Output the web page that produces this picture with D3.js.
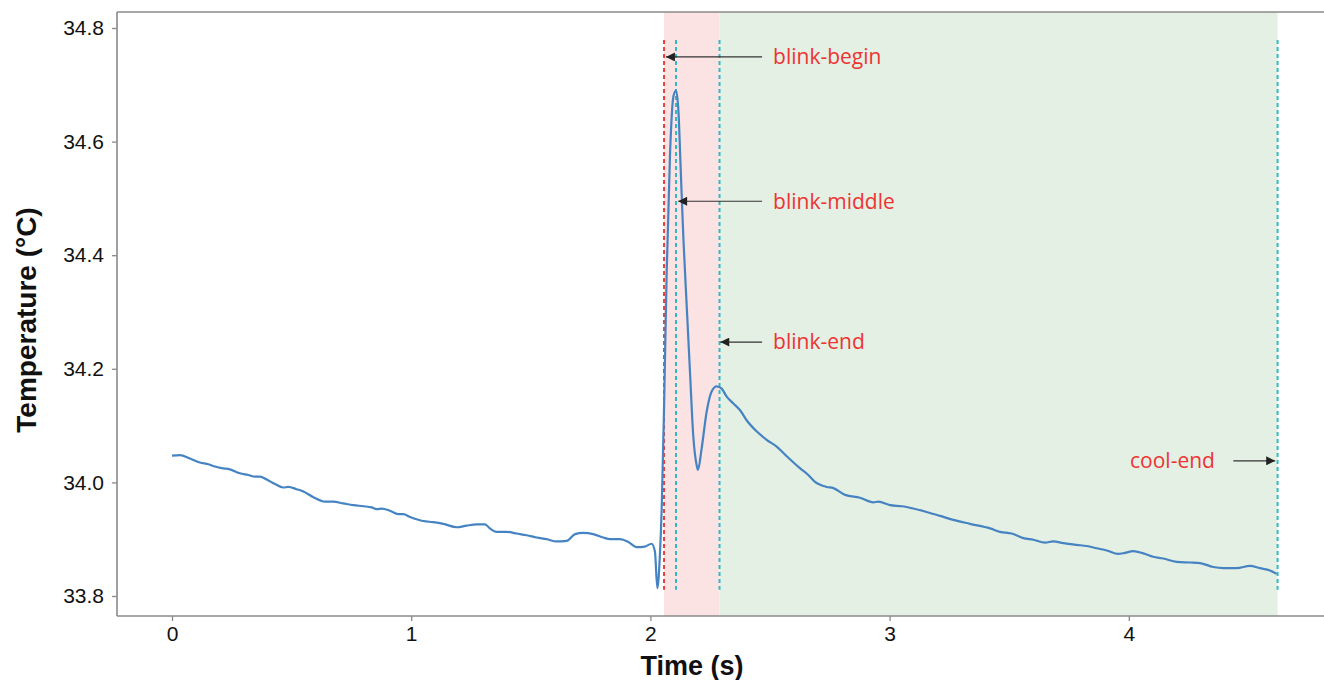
<!DOCTYPE html>
<html><head><meta charset="utf-8">
<script src="https://cdn.jsdelivr.net/npm/d3@7"></script>
<style>body{margin:0;background:#fff}svg{display:block}</style>
</head><body><svg id="c" width="1324" height="680"></svg>
<script>
// time (s)
const timeS = [0.000,0.033,0.075,0.117,0.152,0.180,0.208,0.242,0.284,0.319,0.347,0.368,0.396,0.431,0.465,0.486,0.521,0.549,0.591,0.640,0.674,0.716,0.758,0.800,0.835,0.856,0.877,0.911,0.946,0.967,0.995,
1.009,1.051,1.092,1.134,1.190,1.232,1.274,1.309,1.329,1.357,1.399,1.441,1.483,1.525,1.566,1.608,1.650,1.685,1.719,1.761,1.803,1.831,1.873,1.908,1.943,1.977,2.005,2.019,2.029,2.040,2.047,2.057,2.068,2.082,2.096,2.107,2.117,2.127,2.138,2.152,2.166,2.179,2.194,2.199,2.214,2.235,2.256,2.277,2.298,2.319,2.347,2.375,2.403,2.444,2.486,2.528,2.570,2.625,2.660,2.688,2.737,2.765,2.814,2.876,2.932,2.953,3.002,3.051,3.099,3.155,3.211,3.266,3.336,3.420,3.462,3.510,3.559,3.601,3.650,3.684,3.726,3.782,3.824,3.866,3.908,3.956,3.984,4.019,4.061,4.102,4.144,4.200,4.256,4.298,4.353,4.395,4.451,4.507,4.548,4.590,4.618];
// temperature (°C)
const tempC = [34.047,34.048,34.042,34.035,34.032,34.028,34.025,34.023,34.016,34.013,34.010,34.010,34.005,33.997,33.991,33.992,33.988,33.984,33.974,33.966,33.966,33.963,33.960,33.958,33.956,33.953,33.954,33.950,33.944,33.944,33.939,
33.937,33.932,33.930,33.927,33.921,33.924,33.926,33.926,33.919,33.913,33.913,33.910,33.907,33.903,33.900,33.896,33.897,33.909,33.911,33.909,33.903,33.900,33.900,33.895,33.886,33.887,33.892,33.878,33.814,33.875,33.951,34.131,34.369,34.578,34.679,34.690,34.655,34.548,34.429,34.309,34.190,34.083,34.029,34.022,34.059,34.124,34.160,34.169,34.165,34.151,34.139,34.127,34.109,34.090,34.075,34.063,34.046,34.025,34.013,34.001,33.992,33.990,33.978,33.973,33.965,33.966,33.960,33.958,33.954,33.948,33.941,33.934,33.927,33.919,33.913,33.910,33.902,33.899,33.894,33.896,33.893,33.890,33.888,33.884,33.880,33.874,33.876,33.879,33.875,33.869,33.866,33.860,33.859,33.858,33.851,33.849,33.849,33.853,33.849,33.845,33.839];

const xTicks = [0,1,2,3,4];
const yTicks = [33.8,34.0,34.2,34.4,34.6,34.8];

// phase boundaries (s)
const phaseNames = ["blink","cool"];
const phaseStart = [2.057, 2.289];
const phaseEnd   = [2.289, 4.622];

// marker lines
const markerNames = ["blink-begin","blink-middle","blink-end","cool-end"];
const markerTimes = [2.057, 2.107, 2.289, 4.622];
const markerKinds = ["red","cyan","cyan","cyan"];

// annotations
const noteLabels = ["blink-begin","blink-middle","blink-end","cool-end"];
const noteTemps  = [34.749, 34.495, 34.247, 34.038];
const noteTips   = [2.065, 2.116, 2.292, 4.612];
const noteTails  = [2.467, 2.467, 2.467, 4.437];
const noteTextX  = [2.513, 2.513, 2.513, 4.360];

const svg = d3.select("#c");
const L = 117, R = 1324, T = 12, B = 616;
const x = d3.scaleLinear().domain([0,4]).range([172, 1128.8]);
const y = d3.scaleLinear().domain([33.8,34.8]).range([596, 28]);

const phaseFill = {blink:"#fbe3e3", cool:"#e4f0e3"};
svg.selectAll("rect.phase").data(phaseNames).join("rect")
  .attr("x",(d,i)=>x(phaseStart[i])).attr("width",(d,i)=>x(phaseEnd[i])-x(phaseStart[i]))
  .attr("y",T).attr("height",B-T).attr("fill",d=>phaseFill[d]);

// markers
const markColor = {red:"#e8403f", cyan:"#33b9c6"};
svg.selectAll("line.mark").data(markerTimes).join("line")
  .attr("x1",d=>x(d)).attr("x2",d=>x(d))
  .attr("y1",y(34.779)).attr("y2",y(33.811))
  .attr("stroke",(d,i)=>markColor[markerKinds[i]]).attr("stroke-width",2)
  .attr("stroke-dasharray","4,3");

// line
const pts = timeS.map((t,i)=>[t,tempC[i]]);
svg.append("path").datum(pts)
  .attr("d", d3.line().x(d=>x(d[0])).y(d=>y(d[1])).curve(d3.curveMonotoneX))
  .attr("fill","none").attr("stroke","#4683c2").attr("stroke-width",2.2).attr("stroke-linejoin","round");

// frame
const fc = "#8a8a8a";
svg.append("line").attr("x1",L).attr("x2",R).attr("y1",T).attr("y2",T).attr("stroke",fc).attr("stroke-width",1.6);
svg.append("line").attr("x1",L).attr("x2",L).attr("y1",T).attr("y2",B).attr("stroke",fc).attr("stroke-width",1.6);
svg.append("line").attr("x1",L).attr("x2",R).attr("y1",B).attr("y2",B).attr("stroke",fc).attr("stroke-width",1.6);

// axes
const fontAx = "'Liberation Sans', Arial, sans-serif";
const gx = svg.append("g").attr("transform",`translate(0,${B})`)
  .call(d3.axisBottom(x).tickValues(xTicks).tickFormat(d3.format("d")).tickSize(5).tickPadding(5));
gx.select(".domain").remove();
gx.selectAll("line").attr("stroke",fc).attr("stroke-width",1.3);
gx.selectAll("text").attr("font-family",fontAx).attr("font-size",21).attr("fill","#111");

const gy = svg.append("g").attr("transform",`translate(${L},0)`)
  .call(d3.axisLeft(y).tickValues(yTicks).tickFormat(d3.format(".1f")).tickSize(5).tickPadding(8));
gy.select(".domain").remove();
gy.selectAll("line").attr("stroke",fc).attr("stroke-width",1.3);
gy.selectAll("text").attr("font-family",fontAx).attr("font-size",21).attr("fill","#111");

svg.append("text").attr("x",692).attr("y",675).attr("text-anchor","middle")
  .attr("font-family",fontAx).attr("font-weight","bold").attr("font-size",27).attr("fill","#111").text("Time (s)");
svg.append("text").attr("transform","translate(36,320) rotate(-90)").attr("text-anchor","middle")
  .attr("font-family",fontAx).attr("font-weight","bold").attr("font-size",28).attr("fill","#111").text("Temperature (°C)");

// arrows
svg.append("defs").append("marker").attr("id","ah").attr("viewBox","0 0 10 10")
  .attr("refX",10).attr("refY",5).attr("markerWidth",10).attr("markerHeight",9).attr("markerUnits","userSpaceOnUse")
  .attr("orient","auto").append("path").attr("d","M0,0L10,5L0,10z").attr("fill","#222");
svg.selectAll("line.arrow").data(noteLabels).join("line")
  .attr("x1",(d,i)=>x(noteTails[i])).attr("x2",(d,i)=>x(noteTips[i]))
  .attr("y1",(d,i)=>y(noteTemps[i])).attr("y2",(d,i)=>y(noteTemps[i]))
  .attr("stroke","#333").attr("stroke-width",1.2).attr("marker-end","url(#ah)");
svg.selectAll("text.note").data(noteLabels).join("text")
  .attr("x",(d,i)=>x(noteTextX[i])).attr("y",(d,i)=>y(noteTemps[i]))
  .attr("dy","0.35em").attr("text-anchor",(d,i)=>i===3?"end":"start")
  .attr("font-family","'Open Sans', sans-serif").attr("font-size",21).attr("fill","#ee3333").text(d=>d);
</script></body></html>
